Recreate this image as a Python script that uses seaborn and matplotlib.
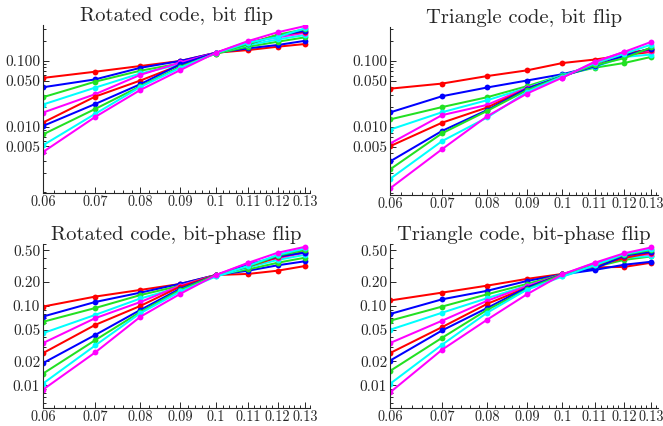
import numpy as np
import pandas as pd
import seaborn as sns
import matplotlib
matplotlib.use("Agg")
import matplotlib.pyplot as plt
from matplotlib.ticker import FixedLocator, FixedFormatter, NullFormatter

# physical error rates on the x axis
p_values = [0.06, 0.07, 0.08, 0.09, 0.10, 0.11, 0.12, 0.13]
series_names = ["s1", "s2", "s3", "s4", "s5", "s6", "s7", "s8", "s9", "s10"]
line_colors = ["red", "blue", "#22e022", "cyan", "magenta"] * 2

# logical error rates, one list per series
rot_bit = [
    [0.0547, 0.068, 0.083, 0.099, 0.132, 0.145, 0.163, 0.179],
    [0.0395, 0.052, 0.078, 0.099, 0.132, 0.154, 0.173, 0.200],
    [0.0279, 0.048, 0.0705, 0.091, 0.128, 0.163, 0.194, 0.226],
    [0.0216, 0.039, 0.064, 0.088, 0.130, 0.173, 0.210, 0.245],
    [0.0163, 0.031, 0.061, 0.094, 0.132, 0.194, 0.226, 0.265],
    [0.0115, 0.0285, 0.050, 0.086, 0.132, 0.183, 0.245, 0.275],
    [0.0102, 0.022, 0.044, 0.088, 0.132, 0.180, 0.240, 0.285],
    [0.0076, 0.0185, 0.041, 0.081, 0.128, 0.178, 0.248, 0.300],
    [0.0052, 0.0156, 0.040, 0.078, 0.130, 0.188, 0.228, 0.310],
    [0.0041, 0.014, 0.036, 0.072, 0.132, 0.199, 0.270, 0.335],
]
tri_bit = [
    [0.038, 0.0454, 0.059, 0.072, 0.093, 0.105, 0.122, 0.137],
    [0.0166, 0.0292, 0.0396, 0.0505, 0.063, 0.083, 0.122, 0.154],
    [0.0130, 0.020, 0.0282, 0.0414, 0.061, 0.079, 0.093, 0.115],
    [0.0091, 0.0167, 0.0254, 0.039, 0.061, 0.081, 0.115, 0.125],
    [0.0056, 0.0151, 0.0216, 0.039, 0.056, 0.097, 0.137, 0.140],
    [0.0051, 0.0116, 0.0197, 0.038, 0.058, 0.090, 0.130, 0.148],
    [0.0030, 0.0087, 0.018, 0.038, 0.059, 0.083, 0.120, 0.154],
    [0.00227, 0.0080, 0.0175, 0.036, 0.059, 0.086, 0.110, 0.160],
    [0.00163, 0.0061, 0.0139, 0.034, 0.058, 0.092, 0.128, 0.177],
    [0.00117, 0.0046, 0.0145, 0.032, 0.056, 0.096, 0.137, 0.194],
]
rot_bp = [
    [0.098, 0.131, 0.159, 0.189, 0.245, 0.253, 0.278, 0.318],
    [0.0734, 0.112, 0.147, 0.190, 0.245, 0.278, 0.325, 0.365],
    [0.063, 0.094, 0.137, 0.180, 0.245, 0.289, 0.350, 0.405],
    [0.0453, 0.077, 0.124, 0.172, 0.235, 0.305, 0.380, 0.440],
    [0.034, 0.070, 0.112, 0.180, 0.245, 0.344, 0.400, 0.470],
    [0.0254, 0.0576, 0.100, 0.175, 0.245, 0.313, 0.410, 0.480],
    [0.019, 0.043, 0.089, 0.165, 0.245, 0.325, 0.420, 0.470],
    [0.014, 0.037, 0.084, 0.159, 0.245, 0.313, 0.430, 0.505],
    [0.0105, 0.0317, 0.081, 0.152, 0.235, 0.320, 0.440, 0.530],
    [0.0088, 0.0259, 0.073, 0.142, 0.245, 0.350, 0.468, 0.555],
]
tri_bp = [
    [0.117, 0.147, 0.180, 0.219, 0.253, 0.306, 0.310, 0.350],
    [0.079, 0.121, 0.155, 0.206, 0.250, 0.284, 0.330, 0.360],
    [0.065, 0.098, 0.140, 0.189, 0.250, 0.310, 0.380, 0.420],
    [0.050, 0.082, 0.125, 0.180, 0.235, 0.315, 0.405, 0.425],
    [0.034, 0.065, 0.116, 0.178, 0.250, 0.344, 0.420, 0.450],
    [0.0254, 0.054, 0.106, 0.170, 0.250, 0.318, 0.400, 0.470],
    [0.0204, 0.049, 0.094, 0.170, 0.250, 0.295, 0.430, 0.480],
    [0.0151, 0.0396, 0.089, 0.162, 0.250, 0.325, 0.440, 0.505],
    [0.0104, 0.0324, 0.082, 0.160, 0.235, 0.325, 0.450, 0.520],
    [0.0081, 0.028, 0.067, 0.140, 0.250, 0.350, 0.460, 0.545],
]

titles = ["Rotated code, bit flip", "Triangle code, bit flip",
          "Rotated code, bit-phase flip", "Triangle code, bit-phase flip"]
x_labels = ["0.06", "0.07", "0.08", "0.09", "0.1", "0.11", "0.12", "0.13"]
top_yticks = [0.005, 0.01, 0.05, 0.1]
top_ylabels = ["0.005", "0.010", "0.050", "0.100"]
bot_yticks = [0.01, 0.02, 0.05, 0.1, 0.2, 0.5]
bot_ylabels = ["0.01", "0.02", "0.05", "0.10", "0.20", "0.50"]


def to_long(rows):
    frames = []
    for name, vals in zip(series_names, rows):
        frames.append(pd.DataFrame({"p": p_values, "rate": vals, "series": name}))
    return pd.concat(frames, ignore_index=True)


sns.set_style("ticks")
plt.rcParams["font.family"] = ["cmr10", "DejaVu Serif"]
plt.rcParams["axes.unicode_minus"] = False

fig = plt.figure(figsize=(6.63, 4.26), dpi=100)
W, H = 663, 426
# axes boxes in pixels: left, top, right, bottom
boxes = [(43, 25, 310, 193), (390, 27, 658, 195),
         (43, 244, 310, 408), (390, 244, 658, 408)]
ylims = [(0.00098, 0.348), (0.00093, 0.327), (0.00516, 0.603), (0.00516, 0.603)]
xlims = [(0.06, 0.132), (0.06, 0.1327), (0.06, 0.132), (0.06, 0.1327)]
panels = [rot_bit, tri_bit, rot_bp, tri_bp]

minor_x = [0.06 + 0.002 * i for i in range(37)]
minor_y = [k * 10.0 ** e for e in range(-4, 1) for k in range(1, 10)]

for i, rows in enumerate(panels):
    l, t, r, b = boxes[i]
    ax = fig.add_axes([l / W, 1 - b / H, (r - l) / W, (b - t) / H])
    df = to_long(rows)
    sns.lineplot(data=df, x="p", y="rate", hue="series", palette=line_colors,
                 marker="o", markersize=4.2, markeredgewidth=0, linewidth=1.45,
                 estimator=None, sort=False, legend=False, ax=ax)
    ax.set_xscale("log")
    ax.set_yscale("log")
    ax.set_xlim(*xlims[i])
    ax.set_ylim(*ylims[i])
    ax.xaxis.set_major_locator(FixedLocator(p_values))
    ax.xaxis.set_major_formatter(FixedFormatter(x_labels))
    ax.xaxis.set_minor_locator(FixedLocator(minor_x))
    ax.xaxis.set_minor_formatter(NullFormatter())
    if i < 2:
        yt, yl = top_yticks, top_ylabels
    else:
        yt, yl = bot_yticks, bot_ylabels
    ax.yaxis.set_major_locator(FixedLocator(yt))
    ax.yaxis.set_major_formatter(FixedFormatter(yl))
    ax.yaxis.set_minor_locator(FixedLocator(minor_y))
    ax.yaxis.set_minor_formatter(NullFormatter())
    ax.tick_params(which="both", direction="in", width=0.7, pad=2)
    ax.tick_params(axis="x", labelsize=10.3)
    ax.tick_params(axis="y", labelsize=11)
    ax.tick_params(which="major", length=4.5)
    ax.tick_params(which="minor", length=2.2)
    ax.set_xlabel("")
    ax.set_ylabel("")
    for side in ["top", "right"]:
        ax.spines[side].set_visible(False)
    for side in ["left", "bottom"]:
        ax.spines[side].set_linewidth(0.8)
    ax.set_title(titles[i], fontsize=14.8, pad=1.5)

fig.savefig("out.png", dpi=100)
